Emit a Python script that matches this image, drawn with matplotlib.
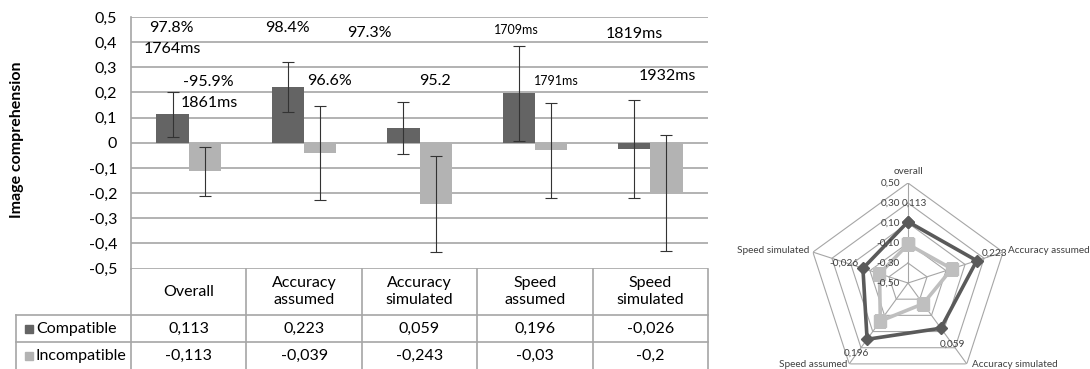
import numpy as np
import matplotlib
matplotlib.use('Agg')
import matplotlib.pyplot as plt

# ---- data ----
categories = ['Overall', 'Accuracy\nassumed', 'Accuracy\nsimulated', 'Speed\nassumed', 'Speed\nsimulated']
series_names = ['Compatible', 'Incompatible']
compatible = [0.113, 0.223, 0.059, 0.196, -0.026]
incompatible = [-0.113, -0.039, -0.243, -0.03, -0.2]
compatible_err = [0.09, 0.10, 0.104, 0.188, 0.195]
incompatible_err = [0.097, 0.187, 0.19, 0.19, 0.232]
compatible_lbl = ['0,113', '0,223', '0,059', '0,196', '-0,026']
incompatible_lbl = ['-0,113', '-0,039', '-0,243', '-0,03', '-0,2']

note_text = ['97.8%', '1764ms', '-95.9%', '1861ms', '98.4%', '96.6%',
             '97.3%', '95.2', '1709ms', '1791ms', '1819ms', '1932ms']
note_x = [-0.15, -0.145, 0.167, 0.176, 0.852, 1.224, 1.562, 2.134, 2.836, 3.19, 3.86, 4.15]
note_y = [0.457, 0.373, 0.242, 0.158, 0.457, 0.246, 0.437, 0.246, 0.449, 0.246, 0.433, 0.266]
note_small = [False, False, False, False, False, False, False, False, True, True, False, False]

radar_names = ['overall', 'Accuracy assumed', 'Accuracy simulated', 'Speed assumed', 'Speed simulated']
radar_rings = [-0.3, -0.1, 0.1, 0.3, 0.5]
radar_tick_lbl = ['0,50', '0,30', '0,10', '-0,10', '-0,30', '-0,50']
radar_tick_val = [0.5, 0.3, 0.1, -0.1, -0.3, -0.5]

DARK = '#646464'
LIGHT = '#b3b3b3'
GRID = '#a6a6a6'
FS = 11.5

plt.rcParams['font.family'] = ['Lato', 'DejaVu Sans']

W, H = 1090, 369
fig = plt.figure(figsize=(W / 100, H / 100), dpi=100)

def px_box(x0, y0, x1, y1):
    # pixel box (top-left origin) -> figure fraction rect
    return [x0 / W, 1 - y1 / H, (x1 - x0) / W, (y1 - y0) / H]

# ---- bar chart ----
ax = fig.add_axes(px_box(131, 17, 708, 268.5))
x = np.arange(len(categories))
bw = 0.28
ax.bar(x - 0.14, compatible, bw, color=DARK, zorder=3)
ax.bar(x + 0.14, incompatible, bw, color=LIGHT, zorder=3)
ax.errorbar(x - 0.14, compatible, yerr=compatible_err, fmt='none', ecolor='#333333',
            elinewidth=0.8, capsize=4.5, capthick=0.8, zorder=4)
ax.errorbar(x + 0.14, incompatible, yerr=incompatible_err, fmt='none', ecolor='#333333',
            elinewidth=0.8, capsize=4.5, capthick=0.8, zorder=4)

ax.set_xlim(-0.5, 4.5)
ax.set_ylim(-0.5, 0.5)
yt = np.round(np.arange(-0.5, 0.51, 0.1), 1)
ax.set_yticks(yt)
ax.set_yticklabels(['0' if abs(v) < 1e-9 else f'{v:.1f}'.replace('.', ',') for v in yt],
                   fontsize=FS)
ax.set_xticks([])
ax.tick_params(axis='y', length=0, pad=10)
ax.grid(axis='y', color=GRID, linewidth=1.2, zorder=0)
for s in ['top', 'right', 'bottom']:
    ax.spines[s].set_visible(False)
ax.spines['left'].set_color(GRID)
ax.spines['left'].set_linewidth(1.2)
fig.text(17 / W, 1 - 140 / H, 'Image comprehension', rotation=90, ha='center', va='center',
         fontsize=11.5, fontweight='bold')

for t, nx, ny, sm in zip(note_text, note_x, note_y, note_small):
    ax.text(nx, ny, t, ha='center', va='center', fontsize=9 if sm else FS, zorder=5)

# ---- data table ----
tab = fig.add_axes(px_box(16, 268.5, 708, 369))
x_left = -0.5 - (131 - 16) / 115.4
tab.set_xlim(x_left, 4.5)
tab.set_ylim(369, 268.5)
tab.set_axis_off()
lk = dict(color=GRID, linewidth=1.2, clip_on=False)
for b in np.arange(-0.5, 4.6, 1.0):
    tab.plot([b, b], [268.5, 369], **lk)
tab.plot([x_left, x_left], [315, 369], **lk)
tab.plot([x_left, 4.5], [315, 315], **lk)
tab.plot([x_left, 4.5], [342, 342], **lk)
for i, c in enumerate(categories):
    tab.text(i, 291.5, c, ha='center', va='center', fontsize=FS, linespacing=1.25)
    tab.text(i, 329, compatible_lbl[i], ha='center', va='center', fontsize=FS)
    tab.text(i, 356, incompatible_lbl[i], ha='center', va='center', fontsize=FS)
sq_x = x_left + 13.5 / 115.4
for name, col, yy in zip(series_names, [DARK, LIGHT], [329, 356]):
    tab.plot(sq_x, yy, marker='s', color=col, markersize=5.2, clip_on=False)
    tab.text(sq_x + 6.5 / 115.4, yy, name, ha='left', va='center', fontsize=FS)

# ---- radar chart ----
cx, cy, R = 908, 283, 100
rad = fig.add_axes(px_box(cx - R, cy - R, cx + R, cy + R), projection='polar')
rad.set_theta_offset(np.pi / 2)
rad.set_theta_direction(-1)
rad.set_ylim(-0.5, 0.5)
rad.set_axis_off()
theta = np.linspace(0, 2 * np.pi, len(radar_names), endpoint=False)
th_closed = np.append(theta, theta[0])
for r in radar_rings:
    rad.plot(th_closed, [r] * len(th_closed), color=GRID, linewidth=0.8, zorder=1)
for th in theta:
    rad.plot([th, th], [-0.5, 0.5], color=GRID, linewidth=0.8, zorder=1)

rad.plot(th_closed, incompatible + incompatible[:1], color='#bfbfbf', linewidth=2.6,
         marker='s', markersize=8, zorder=3)
rad.plot(th_closed, compatible + compatible[:1], color='#5a5a5a', linewidth=2.6,
         marker='D', markersize=6.5, zorder=4)

for lbl, v in zip(radar_tick_lbl, radar_tick_val):
    rad.annotate(lbl, (0, v), xytext=(-8, 0), textcoords='offset pixels',
                 ha='right', va='center', fontsize=7.2, color='#404040', zorder=5)

lbl_off = [(6, 19), (18, 7), (12, -16), (-11, -14), (-19, 5)]
for th, v, lbl, off in zip(theta, compatible, compatible_lbl, lbl_off):
    rad.annotate(lbl, (th, v), xytext=off, textcoords='offset pixels',
                 ha='center', va='center', fontsize=7.2, color='#404040', zorder=5)

name_off = [(0, 11), (5, 2), (5, -1), (-2, -1), (-4, 2)]
name_ha = ['center', 'left', 'left', 'right', 'right']
for th, name, off, ha in zip(theta, radar_names, name_off, name_ha):
    rad.annotate(name, (th, 0.5), xytext=off, textcoords='offset pixels',
                 ha=ha, va='center', fontsize=7.2, color='#404040', annotation_clip=False)

fig.savefig('out.png', dpi=100)
